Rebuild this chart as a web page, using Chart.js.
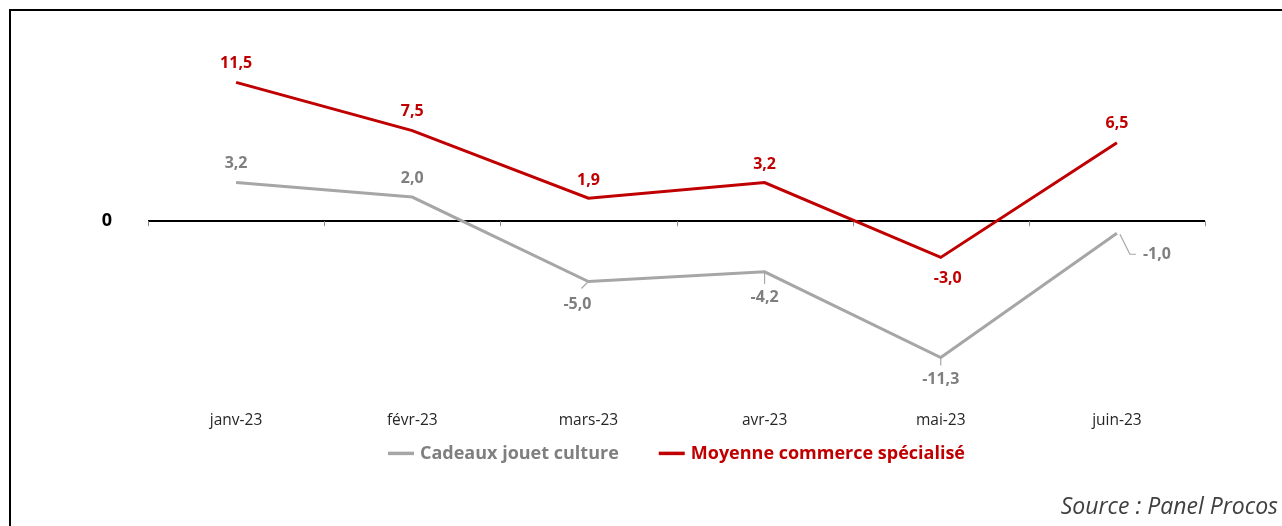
<!DOCTYPE html>
<html>
<head>
<meta charset="utf-8">
<script src="https://cdn.jsdelivr.net/npm/chart.js@4.4.0/dist/chart.umd.min.js"></script>
<style>
html, body { margin: 0; padding: 0; background: #fff; }
#wrap { position: relative; width: 1282px; height: 526px; overflow: hidden; }
#frame { position: absolute; left: 9px; top: 9px; right: -10px; bottom: -10px;
         border-left: 2px solid #000; border-top: 2px solid #000; }
#chart { position: absolute; left: 0; top: 0; }
</style>
</head>
<body>
<div id="wrap">
  <div id="frame"></div>
  <canvas id="chart" width="1282" height="526"></canvas>
</div>
<script>
var months = ["janv-23", "févr-23", "mars-23", "avr-23", "mai-23", "juin-23"];
var cadeaux = [3.2, 2.0, -5.0, -4.2, -11.3, -1.0];
var moyenne = [11.5, 7.5, 1.9, 3.2, -3.0, 6.5];
var seriesNames = ["Cadeaux jouet culture", "Moyenne commerce spécialisé"];

var fam = "'Open Sans', 'DejaVu Sans', sans-serif";
var greyLine = "#A6A6A6", greyText = "#7F7F7F", red = "#C00000";

// label placement relative to each point: [dx, dy, leader]
var greyLabelPos = [[0, -19], [0, -19], [-11, 23, "diag"], [0, 26, "down"], [0, 22, "down"], [40, 21, "elbow"]];
var redLabelPos = [[0, -19], [0, -19], [0, -18], [0, -18], [7, 21], [0, -19]];

function fmt(v) { return v.toFixed(1).replace(".", ","); }

var decorations = {
  id: "decorations",
  beforeDatasetsDraw: function (chart) {
    // small tick marks on the zero line between categories
    var ctx = chart.ctx, x = chart.scales.x, y0 = chart.scales.y.getPixelForValue(0);
    ctx.save();
    ctx.strokeStyle = "#8C8C8C";
    ctx.lineWidth = 1;
    for (var i = 0; i <= months.length; i++) {
      var px;
      if (i === 0) px = chart.chartArea.left;
      else if (i === months.length) px = chart.chartArea.right;
      else px = (x.getPixelForValue(i - 1) + x.getPixelForValue(i)) / 2;
      px = Math.round(px) + 0.5;
      ctx.beginPath();
      ctx.moveTo(px, y0);
      ctx.lineTo(px, y0 + 5);
      ctx.stroke();
    }
    ctx.restore();
  },
  afterDatasetsDraw: function (chart) {
    var ctx = chart.ctx;
    ctx.save();
    ctx.font = "bold 16px " + fam;
    ctx.textBaseline = "middle";
    chart.data.datasets.forEach(function (ds, di) {
      var meta = chart.getDatasetMeta(di);
      var pos = di === 0 ? greyLabelPos : redLabelPos;
      ctx.fillStyle = di === 0 ? greyText : red;
      meta.data.forEach(function (pt, i) {
        var p = pos[i], lx = pt.x + p[0], ly = pt.y + p[1];
        var txt = fmt(ds.data[i]);
        ctx.textAlign = "center";
        if (p[2]) {
          ctx.strokeStyle = greyLine;
          ctx.lineWidth = 1.2;
          ctx.beginPath();
          if (p[2] === "diag") {
            ctx.moveTo(pt.x - 1, pt.y + 1);
            ctx.lineTo(pt.x - 7, pt.y + 7);
          } else if (p[2] === "down") {
            ctx.moveTo(pt.x, pt.y);
            ctx.lineTo(pt.x, pt.y + p[1] - 14);
          } else {
            ctx.moveTo(pt.x + 3, pt.y + 1);
            ctx.lineTo(pt.x + 13, ly);
            ctx.lineTo(pt.x + 19, ly);
          }
          ctx.stroke();
        }
        ctx.fillText(txt, lx, ly);
      });
    });
    ctx.restore();
  },
  afterDraw: function (chart) {
    // legend: line sample followed by coloured bold text
    var ctx = chart.ctx;
    ctx.save();
    ctx.font = "bold 18px " + fam;
    ctx.textBaseline = "middle";
    ctx.textAlign = "left";
    var sample = 26, gap = 6, between = 40;
    var widths = seriesNames.map(function (n) { return ctx.measureText(n).width; });
    var total = sample * 2 + gap * 2 + widths[0] + widths[1] + between;
    var cx = (chart.chartArea.left + chart.chartArea.right) / 2;
    var ly = chart.scales.x.bottom + 13;
    var lx = cx - total / 2;
    chart.data.datasets.forEach(function (ds, di) {
      ctx.strokeStyle = ds.borderColor;
      ctx.lineWidth = 3.5;
      ctx.beginPath();
      ctx.moveTo(lx, ly);
      ctx.lineTo(lx + sample, ly);
      ctx.stroke();
      ctx.fillStyle = di === 0 ? greyText : red;
      ctx.fillText(ds.label, lx + sample + gap, ly);
      lx += sample + gap + widths[di] + between;
    });
    ctx.restore();
  }
};

new Chart(document.getElementById("chart"), {
  type: "line",
  data: {
    labels: months,
    datasets: [
      { label: seriesNames[0], data: cadeaux, borderColor: greyLine, borderWidth: 3, pointRadius: 0, tension: 0 },
      { label: seriesNames[1], data: moyenne, borderColor: red, borderWidth: 3, pointRadius: 0, tension: 0 }
    ]
  },
  options: {
    responsive: false,
    animation: false,
    layout: { padding: { top: 42.5, left: 0, right: 4, bottom: 0 } },
    scales: {
      x: {
        offset: true,
        grid: { display: false, drawTicks: false },
        border: { display: false },
        ticks: { color: "#262626", font: { family: fam, size: 15.5 }, padding: 11, maxRotation: 0 }
      },
      y: {
        min: -14.8,
        max: 14.45,
        afterBuildTicks: function (scale) { scale.ticks = [{ value: 0 }]; },
        afterFit: function (scale) { scale.width = 148; },
        grid: { color: "#000", lineWidth: 2, drawTicks: false },
        border: { display: false },
        ticks: { color: "#000", font: { family: fam, size: 18, weight: "bold" }, padding: 36,
                 callback: function (v) { return String(v); } }
      },
      yRight: {
        position: "right",
        min: -14.8,
        max: 14.45,
        afterFit: function (scale) { scale.width = 73; },
        grid: { display: false, drawTicks: false },
        border: { display: false },
        ticks: { display: false }
      }
    },
    plugins: {
      legend: { display: false },
      tooltip: { enabled: false },
      subtitle: {
        display: true,
        position: "bottom",
        align: "end",
        text: "Source : Panel Procos",
        color: "#404040",
        font: { family: fam, size: 23, style: "italic", weight: "normal" },
        padding: { top: 53.5, bottom: 4.5 }
      }
    }
  },
  plugins: [decorations]
});
</script>
</body>
</html>
